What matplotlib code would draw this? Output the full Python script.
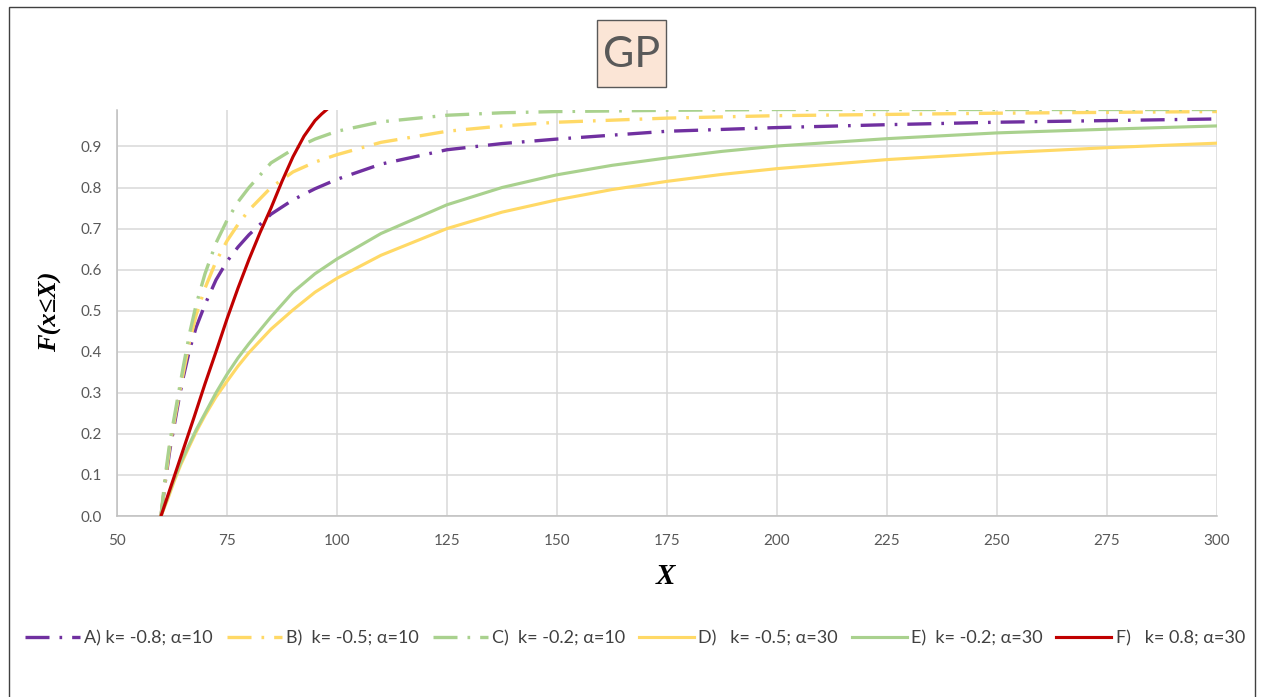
import matplotlib
matplotlib.use("Agg")
import matplotlib.pyplot as plt
from matplotlib.patches import Rectangle

# ---- data ----
x_dd = [60, 61, 62, 63, 64, 65, 66.5, 68, 70, 72.5, 75, 77.5, 80, 85, 90, 95, 100, 110, 125, 137.5,
        150, 175, 200, 225, 250, 275, 300]
A_vals = [0, 0.085, 0.16, 0.22, 0.28, 0.335, 0.405, 0.46, 0.515, 0.575, 0.62, 0.655, 0.685, 0.735, 0.77,
          0.797, 0.82, 0.857, 0.892, 0.907, 0.918, 0.937, 0.946, 0.953, 0.959, 0.963, 0.967]
B_vals = [0, 0.09, 0.17, 0.23, 0.29, 0.345, 0.425, 0.49, 0.555, 0.62, 0.67, 0.71, 0.745, 0.80, 0.838,
          0.862, 0.88, 0.91, 0.937, 0.95, 0.959, 0.969, 0.975, 0.978, 0.981, 0.983, 0.985]
C_vals = [0, 0.10, 0.18, 0.24, 0.30, 0.36, 0.445, 0.515, 0.59, 0.665, 0.72, 0.765, 0.80, 0.86, 0.893,
          0.918, 0.937, 0.96, 0.976, 0.982, 0.985, 0.988, 0.99, 0.99, 0.99, 0.99, 0.99]

x_sol = [60, 61.5, 63, 64.5, 66, 68, 70, 72.5, 75, 77.5, 80, 85, 90, 95, 100, 110, 125, 137.5,
         150, 162.5, 175, 187.5, 200, 225, 250, 275, 300]
D_vals = [0, 0.04, 0.085, 0.125, 0.16, 0.205, 0.245, 0.29, 0.328, 0.365, 0.398, 0.455, 0.502, 0.545,
          0.579, 0.635, 0.700, 0.740, 0.770, 0.795, 0.815, 0.832, 0.846, 0.868, 0.884, 0.897, 0.908]
E_vals = [0, 0.045, 0.09, 0.13, 0.165, 0.21, 0.25, 0.30, 0.345, 0.385, 0.42, 0.485, 0.545, 0.59,
          0.626, 0.688, 0.758, 0.80, 0.831, 0.854, 0.872, 0.888, 0.901, 0.919, 0.933, 0.942, 0.950]

x_F = [60, 62.5, 65, 67.5, 70, 72.5, 75, 77.5, 80, 82.5, 85, 87.5, 90, 92.5, 95, 96.5, 97.7]
F_vals = [0, 0.08, 0.16, 0.24, 0.322, 0.40, 0.48, 0.555, 0.625, 0.69, 0.75, 0.815, 0.875, 0.925,
          0.963, 0.979, 0.99]

labels = ["A) k= -0.8; α=10", "B)  k= -0.5; α=10", "C)  k= -0.2; α=10",
          "D)   k= -0.5; α=30", "E)  k= -0.2; α=30", "F)   k= 0.8; α=30"]
x_ticks = [50, 75, 100, 125, 150, 175, 200, 225, 250, 275, 300]
y_ticks = [0.0, 0.1, 0.2, 0.3, 0.4, 0.5, 0.6, 0.7, 0.8, 0.9]

PURPLE = "#7030A0"
YELLOW = "#FFD966"
GREEN = "#A9D18E"
RED = "#C00000"
TXT = "#595959"

W, H = 1262, 697
fig = plt.figure(figsize=(W / 100, H / 100), dpi=100)
fig.patch.set_facecolor("white")

# outer chart border
fig.patches.append(Rectangle((9 / W, -0.01), (1255 - 9) / W, 1 - 7 / H + 0.01,
                             transform=fig.transFigure, fill=False,
                             edgecolor="#404040", linewidth=1.0))

left, right, top, bottom = 117, 1217, 109.5, 516
ax = fig.add_axes([left / W, 1 - bottom / H, (right - left) / W, (bottom - top) / H])

lw_dd = 2.4
dash = (7.2, 3.0, 0.8, 3.0)
ax.plot(x_dd, A_vals, color=PURPLE, lw=lw_dd, dashes=dash, label=labels[0], zorder=3)
ax.plot(x_dd, B_vals, color=YELLOW, lw=lw_dd, dashes=dash, label=labels[1], zorder=3)
ax.plot(x_dd, C_vals, color=GREEN, lw=lw_dd, dashes=dash, label=labels[2], zorder=3)
ax.plot(x_sol, D_vals, color=YELLOW, lw=2.25, label=labels[3], zorder=3)
ax.plot(x_sol, E_vals, color=GREEN, lw=2.25, label=labels[4], zorder=3)
ax.plot(x_F, F_vals, color=RED, lw=2.25, label=labels[5], zorder=3)

ax.set_xlim(50, 300)
ax.set_ylim(0, 0.99)
ax.set_xticks(x_ticks)
ax.set_yticks(y_ticks)
ax.set_xticklabels([str(v) for v in x_ticks])
ax.set_yticklabels([f"{v:.1f}" for v in y_ticks])
ax.grid(True, color="#D9D9D9", linewidth=1.1, zorder=0)
ax.set_axisbelow(True)
for s in ["top", "right"]:
    ax.spines[s].set_visible(False)
for s in ["left", "bottom"]:
    ax.spines[s].set_color("#BFBFBF")
    ax.spines[s].set_linewidth(1.1)
ax.tick_params(axis="both", length=0, colors=TXT, labelsize=11)
ax.tick_params(axis="x", pad=13)
ax.tick_params(axis="y", pad=11)
for t in ax.get_xticklabels() + ax.get_yticklabels():
    t.set_fontfamily("Lato")

# axis titles
fig.text(665 / W, 1 - 576 / H, "X", fontsize=21, fontweight="bold", fontstyle="italic",
         family=["Liberation Serif", "DejaVu Serif"], ha="center", va="center", color="black")
fig.text(50 / W, 1 - 312 / H, "F(x≤X)", fontsize=19, fontweight="bold", fontstyle="italic",
         family=["Liberation Serif", "DejaVu Serif"], ha="center", va="center",
         rotation=90, color="black")

# title with box
fig.patches.append(Rectangle((597 / W, 1 - 87 / H), 69 / W, 67 / H, transform=fig.transFigure,
                             facecolor="#FBE5D6", edgecolor="#595959", linewidth=1.0, zorder=1))
fig.text(632 / W, 1 - 55 / H, "GP", fontsize=31, color=TXT, family="Lato",
         ha="center", va="center", zorder=2)

leg = fig.legend(loc="center", bbox_to_anchor=(635 / W, 1 - 638 / H), ncol=6,
                 frameon=False, handlelength=3.05, handletextpad=0.25,
                 columnspacing=0.75, prop={"family": "Lato", "size": 13})
for t in leg.get_texts():
    t.set_color("#404040")

fig.savefig("out.png", dpi=100)
